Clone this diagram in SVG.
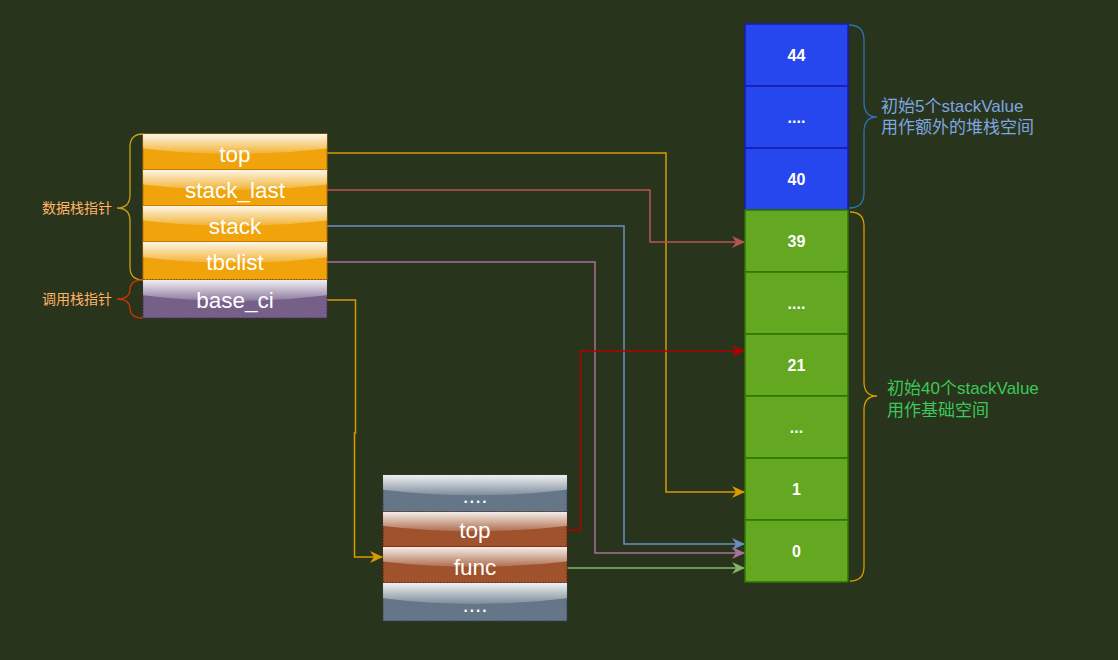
<svg xmlns="http://www.w3.org/2000/svg" width="1118" height="660" viewBox="0 0 1118 660">
<defs>
<linearGradient id="glass" x1="0" y1="0" x2="0" y2="1.09">
<stop offset="0" stop-color="#fff" stop-opacity="0.9"/>
<stop offset="1" stop-color="#fff" stop-opacity="0.1"/>
</linearGradient>
<marker id="aY" markerUnits="userSpaceOnUse" markerWidth="14" markerHeight="14" refX="13" refY="6.5" orient="auto"><path d="M0,0.5 L13,6.5 L0,12.5 L4,6.5 Z" fill="#d79b00"/></marker>
<marker id="aR" markerUnits="userSpaceOnUse" markerWidth="14" markerHeight="14" refX="13" refY="6.5" orient="auto"><path d="M0,0.5 L13,6.5 L0,12.5 L4,6.5 Z" fill="#b85450"/></marker>
<marker id="aB" markerUnits="userSpaceOnUse" markerWidth="14" markerHeight="14" refX="13" refY="6.5" orient="auto"><path d="M0,0.5 L13,6.5 L0,12.5 L4,6.5 Z" fill="#6c8ebf"/></marker>
<marker id="aP" markerUnits="userSpaceOnUse" markerWidth="14" markerHeight="14" refX="13" refY="6.5" orient="auto"><path d="M0,0.5 L13,6.5 L0,12.5 L4,6.5 Z" fill="#a9709a"/></marker>
<marker id="aD" markerUnits="userSpaceOnUse" markerWidth="14" markerHeight="14" refX="13" refY="6.5" orient="auto"><path d="M0,0.5 L13,6.5 L0,12.5 L4,6.5 Z" fill="#b20000"/></marker>
<marker id="aG" markerUnits="userSpaceOnUse" markerWidth="14" markerHeight="14" refX="13" refY="6.5" orient="auto"><path d="M0,0.5 L13,6.5 L0,12.5 L4,6.5 Z" fill="#82b366"/></marker>
</defs>
<style>
text{font-family:"Liberation Sans","Noto Sans CJK SC",Arial,sans-serif}
.cl{font-size:22.5px;fill:#fff;text-anchor:middle}
.num{font-size:16px;font-weight:bold;fill:#fff;text-anchor:middle}
.or{fill:#f0a30a;stroke:#bd7000;stroke-width:1}
.pu{fill:#76608a;stroke:#432d57;stroke-width:1;stroke-dasharray:2 1}
.gr{fill:#647687;stroke:#314354;stroke-width:1;stroke-dasharray:2 1}
.br{fill:#a0522d;stroke:#6d1f00;stroke-width:1;stroke-dasharray:2 1}
.bl{fill:#2647ee;stroke:#1a1ab0;stroke-width:1.5}
.gn{fill:#63a820;stroke:#2d7600;stroke-width:1.5}
.gl{fill:url(#glass)}
.c{fill:none;stroke-width:1.5}
.lbl{font-size:14px;fill:#ffb366;text-anchor:end}
.rl{font-size:17px}
</style>
<rect width="1118" height="660" fill="#29341c"/>

<g id="connectors">
<path class="c" stroke="#d79b00" d="M327,153 H666 V492 H745" marker-end="url(#aY)"/>
<path class="c" stroke="#b85450" d="M327,190 H650 V242 H745" marker-end="url(#aR)"/>
<path class="c" stroke="#6c8ebf" d="M327,226 H624 V544 H745" marker-end="url(#aB)"/>
<path class="c" stroke="#a9709a" d="M327,262 H595 V553 H745" marker-end="url(#aP)"/>
<path class="c" stroke="#d79b00" d="M327,300 H355.5 V433 H354.5 V557 H383" marker-end="url(#aY)"/>
<path class="c" stroke="#b20000" d="M567,530 H580.5 V351 H745" marker-end="url(#aD)"/>
<path class="c" stroke="#82b366" d="M567,568 H745" marker-end="url(#aG)"/>
</g>

<g id="top">
<rect class="or" x="143" y="134" width="184" height="36"/>
<path class="gl" d="M143,134 V148.4 Q235,159.2 327,148.4 V134 Z"/>
<text class="cl" x="235" y="162">top</text>
</g>
<g id="stack_last">
<rect class="or" x="143" y="170" width="184" height="36"/>
<path class="gl" d="M143,170 V184.4 Q235,195.2 327,184.4 V170 Z"/>
<text class="cl" x="235" y="198">stack_last</text>
</g>
<g id="stack">
<rect class="or" x="143" y="206" width="184" height="36"/>
<path class="gl" d="M143,206 V220.4 Q235,231.2 327,220.4 V206 Z"/>
<text class="cl" x="235" y="234">stack</text>
</g>
<g id="tbclist">
<rect class="or" x="143" y="242" width="184" height="38"/>
<path class="gl" d="M143,242 V257.2 Q235,268.6 327,257.2 V242 Z"/>
<text class="cl" x="235" y="270">tbclist</text>
</g>
<g id="base_ci">
<rect class="pu" x="143" y="280" width="184" height="38"/>
<path class="gl" d="M143,280 V295.2 Q235,306.6 327,295.2 V280 Z"/>
<text class="cl" x="235" y="307.5">base_ci</text>
</g>

<g id="ci_dots1">
<rect class="gr" x="383" y="475" width="184" height="37"/>
<path class="gl" d="M383,475 V489.8 Q475,500.9 567,489.8 V475 Z"/>
<text class="cl" x="475" y="503">....</text>
</g>
<g id="ci_top">
<rect class="br" x="383" y="512" width="184" height="35"/>
<path class="gl" d="M383,512 V526 Q475,536.5 567,526 V512 Z"/>
<text class="cl" x="475" y="538">top</text>
</g>
<g id="ci_func">
<rect class="br" x="383" y="547" width="184" height="36"/>
<path class="gl" d="M383,547 V561.4 Q475,572.2 567,561.4 V547 Z"/>
<text class="cl" x="475" y="575">func</text>
</g>
<g id="ci_dots2">
<rect class="gr" x="383" y="583" width="184" height="38"/>
<path class="gl" d="M383,583 V598.2 Q475,609.6 567,598.2 V583 Z"/>
<text class="cl" x="475" y="611.5">....</text>
</g>

<g id="s44"><rect class="bl" x="745" y="24" width="103" height="62"/><text class="num" x="796.5" y="61">44</text></g>
<g id="s43"><rect class="bl" x="745" y="86" width="103" height="62"/><text class="num" x="796.5" y="123">....</text></g>
<g id="s40"><rect class="bl" x="745" y="148" width="103" height="62"/><text class="num" x="796.5" y="185">40</text></g>
<g id="s39"><rect class="gn" x="745" y="210" width="103" height="62"/><text class="num" x="796.5" y="247">39</text></g>
<g id="s22"><rect class="gn" x="745" y="272" width="103" height="62"/><text class="num" x="796.5" y="309">....</text></g>
<g id="s21"><rect class="gn" x="745" y="334" width="103" height="62"/><text class="num" x="796.5" y="371">21</text></g>
<g id="s2"><rect class="gn" x="745" y="396" width="103" height="62"/><text class="num" x="796.5" y="433">...</text></g>
<g id="s1"><rect class="gn" x="745" y="458" width="103" height="62"/><text class="num" x="796.5" y="495">1</text></g>
<g id="s0"><rect class="gn" x="745" y="520" width="103" height="62"/><text class="num" x="796.5" y="557">0</text></g>

<g id="brace_data">
<path fill="none" stroke="#c9a012" stroke-width="1.3" d="M143,134 Q130,134 130,147 V195 Q130,208 117,208 Q130,208 130,221 V267 Q130,280 143,280"/>
<text class="lbl" x="112" y="213">数据栈指针</text>
</g>
<g id="brace_call">
<path fill="none" stroke="#c73500" stroke-width="1.3" d="M143,280 Q130,280 130,290 V289 Q130,299 117,299 Q130,299 130,309 V308 Q130,318 143,318"/>
<text class="lbl" x="112" y="304">调用栈指针</text>
</g>
<g id="brace_extra">
<path fill="none" stroke="#2a73ad" stroke-width="1.3" d="M849,25 Q864,25 864,40 V102 Q864,117 877,117 Q864,117 864,132 V193 Q864,208 849,208"/>
<text class="rl" fill="#7ea6e0"><tspan x="881" y="112">初始5个stackValue</tspan><tspan x="881" y="133">用作额外的堆栈空间</tspan></text>
</g>
<g id="brace_base">
<path fill="none" stroke="#d79b00" stroke-width="1.3" d="M850,212 Q864,212 864,226 V382 Q864,396 877,396 Q864,396 864,410 V567 Q864,581 850,581"/>
<text class="rl" fill="#3cc85a"><tspan x="887" y="394">初始40个stackValue</tspan><tspan x="887" y="416">用作基础空间</tspan></text>
</g>
</svg>
